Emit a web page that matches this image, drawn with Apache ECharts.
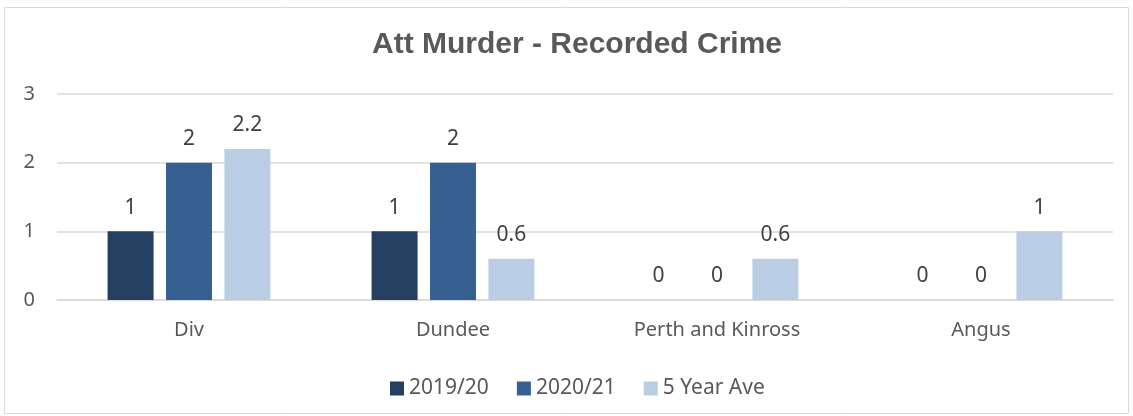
<!DOCTYPE html>
<html>
<head>
<meta charset="utf-8">
<script src="https://cdn.jsdelivr.net/npm/echarts@6/dist/echarts.min.js"></script>
<style>
  html, body { margin: 0; padding: 0; background: #fff; }
  #chart { width: 1133px; height: 416px; }
</style>
</head>
<body>
<div id="chart"></div>
<script>
// 数据
const categories = ['Div', 'Dundee', 'Perth and Kinross', 'Angus']
const seriesNames = ['2019/20', '2020/21', '5 Year Ave']
const values2019 = [1, 1, 0, 0]
const values2020 = [2, 2, 0, 0]
const valuesAve = [2.2, 0.6, 0.6, 1]
const colors = ['#243F60', '#366092', '#B9CDE5']

const chart = echarts.init(document.getElementById('chart'))

function makeSeries(name, data, color) {
  return {
    name,
    type: 'bar',
    data,
    barWidth: 46,
    barGap: '27%',
    itemStyle: { color },
    label: {
      show: true,
      position: 'top',
      distance: 13,
      color: '#404040',
      fontSize: 21,
      fontFamily: 'Noto Sans',
    },
  }
}

const option = {
  animation: false,
  title: {
    text: 'Att Murder - Recorded Crime',
    left: 367,
    top: 25,
    textStyle: {
      fontFamily: 'Liberation Sans',
      fontSize: 30,
      fontWeight: 'bold',
      color: '#595959',
    },
  },
  color: colors,
  legend: {
    top: 373,
    left: 385,
    itemWidth: 14,
    itemHeight: 14,
    itemGap: 28,
    icon: 'rect',
    textStyle: { color: '#595959', fontSize: 21, fontFamily: 'Noto Sans' },
  },
  grid: { left: 57, right: 20, top: 94, bottom: 116 },
  xAxis: {
    type: 'category',
    data: categories,
    axisTick: { show: false },
    axisLine: { lineStyle: { color: '#D9D9D9', width: 1.5 } },
    axisLabel: { color: '#595959', fontSize: 20, margin: 20, fontFamily: 'Noto Sans' },
  },
  yAxis: {
    type: 'value',
    min: 0,
    max: 3,
    interval: 1,
    axisLine: { show: false },
    axisTick: { show: false },
    splitLine: { lineStyle: { color: '#D9D9D9', width: 1.5 } },
    axisLabel: { color: '#595959', fontSize: 20, margin: 22, fontFamily: 'Noto Sans' },
  },
  graphic: [{
    type: 'rect',
    shape: { x: 4.5, y: 7.5, width: 1124, height: 406 },
    style: { fill: 'none', stroke: '#D9D9D9', lineWidth: 1 },
    silent: true,
  }],
  series: [
    makeSeries(seriesNames[0], values2019, colors[0]),
    makeSeries(seriesNames[1], values2020, colors[1]),
    makeSeries(seriesNames[2], valuesAve, colors[2]),
  ],
}

chart.setOption(option)
</script>
</body>
</html>
